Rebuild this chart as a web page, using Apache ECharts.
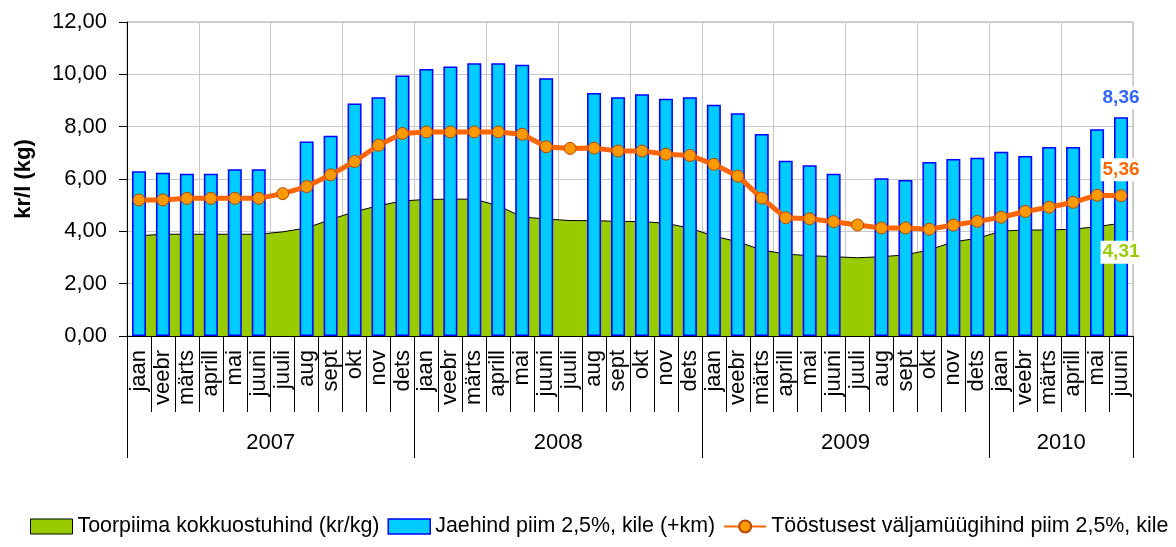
<!DOCTYPE html>
<html>
<head>
<meta charset="utf-8">
<script src="https://cdn.jsdelivr.net/npm/echarts@6/dist/echarts.min.js"></script>
<style>
html,body{margin:0;padding:0;background:#fff;}
#chart{width:1176px;height:547px;}
</style>
</head>
<body>
<div id="chart"></div>
<script>
const months = [
  'jaan','veebr','märts','aprill','mai','juuni','juuli','aug','sept','okt','nov','dets',
  'jaan','veebr','märts','aprill','mai','juuni','juuli','aug','sept','okt','nov','dets',
  'jaan','veebr','märts','aprill','mai','juuni','juuli','aug','sept','okt','nov','dets',
  'jaan','veebr','märts','aprill','mai','juuni'
];
const years = ['2007','2008','2009','2010'];
const yearBounds = [0, 12, 24, 36, 42];
const yTicks = [0, 2, 4, 6, 8, 10, 12];

const rawMilk = [
  3.83, 3.89, 3.89, 3.89, 3.89, 3.89, 3.98, 4.13, 4.45, 4.75, 4.98, 5.16,
  5.22, 5.23, 5.23, 4.98, 4.55, 4.47, 4.41, 4.41, 4.38, 4.37, 4.31, 4.12,
  3.82, 3.60, 3.29, 3.13, 3.07, 3.03, 2.99, 3.03, 3.10, 3.29, 3.60, 3.73,
  4.01, 4.05, 4.05, 4.08, 4.18, 4.31
];
const retail = [
  6.30, 6.24, 6.20, 6.20, 6.37, 6.37, null, 7.43, 7.65, 8.89, 9.12, 9.96,
  10.20, 10.30, 10.42, 10.42, 10.37, 9.85, null, 9.29, 9.12, 9.24, 9.07, 9.12,
  8.84, 8.51, 7.72, 6.70, 6.53, 6.20, null, 6.03, 5.96, 6.65, 6.76, 6.81,
  7.04, 6.88, 7.22, 7.22, 7.90, 8.36
];
const industry = [
  5.20, 5.20, 5.26, 5.26, 5.26, 5.26, 5.44, 5.71, 6.16, 6.67, 7.29, 7.74,
  7.80, 7.80, 7.80, 7.80, 7.71, 7.23, 7.17, 7.18, 7.07, 7.07, 6.95, 6.90,
  6.56, 6.11, 5.27, 4.52, 4.48, 4.37, 4.24, 4.13, 4.13, 4.08, 4.24, 4.38,
  4.54, 4.76, 4.92, 5.11, 5.38, 5.36
];
const seriesNames = [
  'Toorpiima kokkuostuhind (kr/kg)',
  'Jaehind piim 2,5%, kile (+km)',
  'Tööstusest väljamüügihind piim 2,5%, kile'
];

const fmt = v => Number(v).toFixed(2).replace('.', ',');
const FONT = 'Liberation Sans, Arial, sans-serif';
const last = months.length - 1;

function withLastLabel(arr, labelCfg) {
  return arr.map((v, i) => i === last ? { value: v, label: Object.assign({ show: true, formatter: p => fmt(p.value) }, labelCfg) } : v);
}

const yearCenters = years.map((y, i) => (yearBounds[i] + yearBounds[i + 1]) / 2);

const chart = echarts.init(document.getElementById('chart'), null, { renderer: 'canvas' });
chart.setOption({
  animation: false,
  backgroundColor: '#fff',
  textStyle: { fontFamily: FONT },
  grid: {
    left: 127, right: 43, top: 22, bottom: 211,
    show: true, borderColor: '#a6a6a6', borderWidth: 1, backgroundColor: 'transparent'
  },
  legend: {
    bottom: 10, left: 30, padding: 0,
    itemWidth: 42, itemHeight: 15, itemGap: 8,
    textStyle: { fontSize: 21.4, color: '#000', fontFamily: FONT },
    data: [
      { name: seriesNames[0], icon: 'rect', itemStyle: { color: '#99cc00', borderColor: '#000', borderWidth: 1 } },
      { name: seriesNames[1], icon: 'rect', itemStyle: { color: '#00ccff', borderColor: '#0000ff', borderWidth: 1.5 } },
      { name: seriesNames[2] }
    ]
  },
  xAxis: [
    {
      type: 'category',
      data: months,
      boundaryGap: true,
      axisLine: { show: true, lineStyle: { color: '#000', width: 1 } },
      axisTick: { show: true, interval: 0, length: 76, lineStyle: { color: '#000' } },
      axisLabel: { interval: 0, rotate: 90, fontSize: 22, color: '#000', margin: 14, fontFamily: FONT },
      splitLine: { show: true, interval: (i) => i % 3 === 0, lineStyle: { color: '#c8c8c8', width: 1 } }
    },
    {
      type: 'value',
      min: 0, max: 42,
      position: 'bottom',
      axisLine: { show: false },
      axisTick: { show: true, customValues: yearBounds, length: 122, lineStyle: { color: '#000' } },
      axisLabel: {
        show: true, customValues: yearCenters, margin: 96, fontSize: 22, color: '#000', fontFamily: FONT,
        formatter: v => { const i = yearCenters.indexOf(v); return i >= 0 ? years[i] : ''; }
      },
      splitLine: { show: false }
    }
  ],
  yAxis: {
    type: 'value',
    min: yTicks[0], max: yTicks[yTicks.length - 1], interval: 2,
    name: 'kr/l (kg)',
    nameLocation: 'middle',
    nameRotate: 90,
    nameGap: 92,
    nameTextStyle: { fontSize: 22, fontWeight: 'bold', color: '#000', fontFamily: FONT },
    axisLine: { show: true, lineStyle: { color: '#000' } },
    axisTick: { show: true, length: 8, lineStyle: { color: '#000' } },
    axisLabel: { fontSize: 22, color: '#000', margin: 20, formatter: fmt, fontFamily: FONT },
    splitLine: { show: true, lineStyle: { color: '#c8c8c8', width: 1 } }
  },
  series: [
    {
      name: seriesNames[0],
      type: 'line',
      data: rawMilk,
      symbol: 'none',
      showSymbol: false,
      lineStyle: { color: '#000', width: 1 },
      itemStyle: { color: '#99cc00' },
      areaStyle: { color: '#99cc00', opacity: 1 },
      z: 1,
      markPoint: {
        z: 10,
        symbol: 'circle',
        symbolSize: 1,
        itemStyle: { color: 'rgba(0,0,0,0)', borderWidth: 0 },
        label: {
          show: true, position: 'bottom', distance: 17, color: '#99cc00', fontWeight: 'bold', fontSize: 19,
          backgroundColor: '#fff', padding: [2, 2, 2, 2], fontFamily: FONT,
          formatter: p => fmt(p.value)
        },
        data: [{ coord: [last, rawMilk[last]], value: rawMilk[last] }]
      }
    },
    {
      name: seriesNames[1],
      type: 'bar',
      data: withLastLabel(retail, {
        position: 'top', distance: 8, color: '#3366ff', fontWeight: 'bold', fontSize: 19,
        backgroundColor: '#fff', padding: [2, 2, 2, 2], fontFamily: FONT
      }),
      barWidth: 14,
      itemStyle: {
        color: new echarts.graphic.LinearGradient(0, 0, 1, 0, [
          { offset: 0, color: '#00aee0' },
          { offset: 0.25, color: '#00ccff' },
          { offset: 0.75, color: '#00ccff' },
          { offset: 1, color: '#00aee0' }
        ]),
        borderColor: '#0000ff',
        borderWidth: 1.5
      },
      z: 2
    },
    {
      name: seriesNames[2],
      type: 'line',
      data: withLastLabel(industry, {
        position: 'top', distance: 8, color: '#ff6600', fontWeight: 'bold', fontSize: 19,
        backgroundColor: '#fff', padding: [2, 2, 2, 2], fontFamily: FONT
      }),
      symbol: 'circle',
      symbolSize: 12,
      lineStyle: { color: '#ff6600', width: 5 },
      itemStyle: { color: '#ff9900', borderColor: '#b34700', borderWidth: 1 },
      z: 3
    }
  ]
});
</script>
</body>
</html>
